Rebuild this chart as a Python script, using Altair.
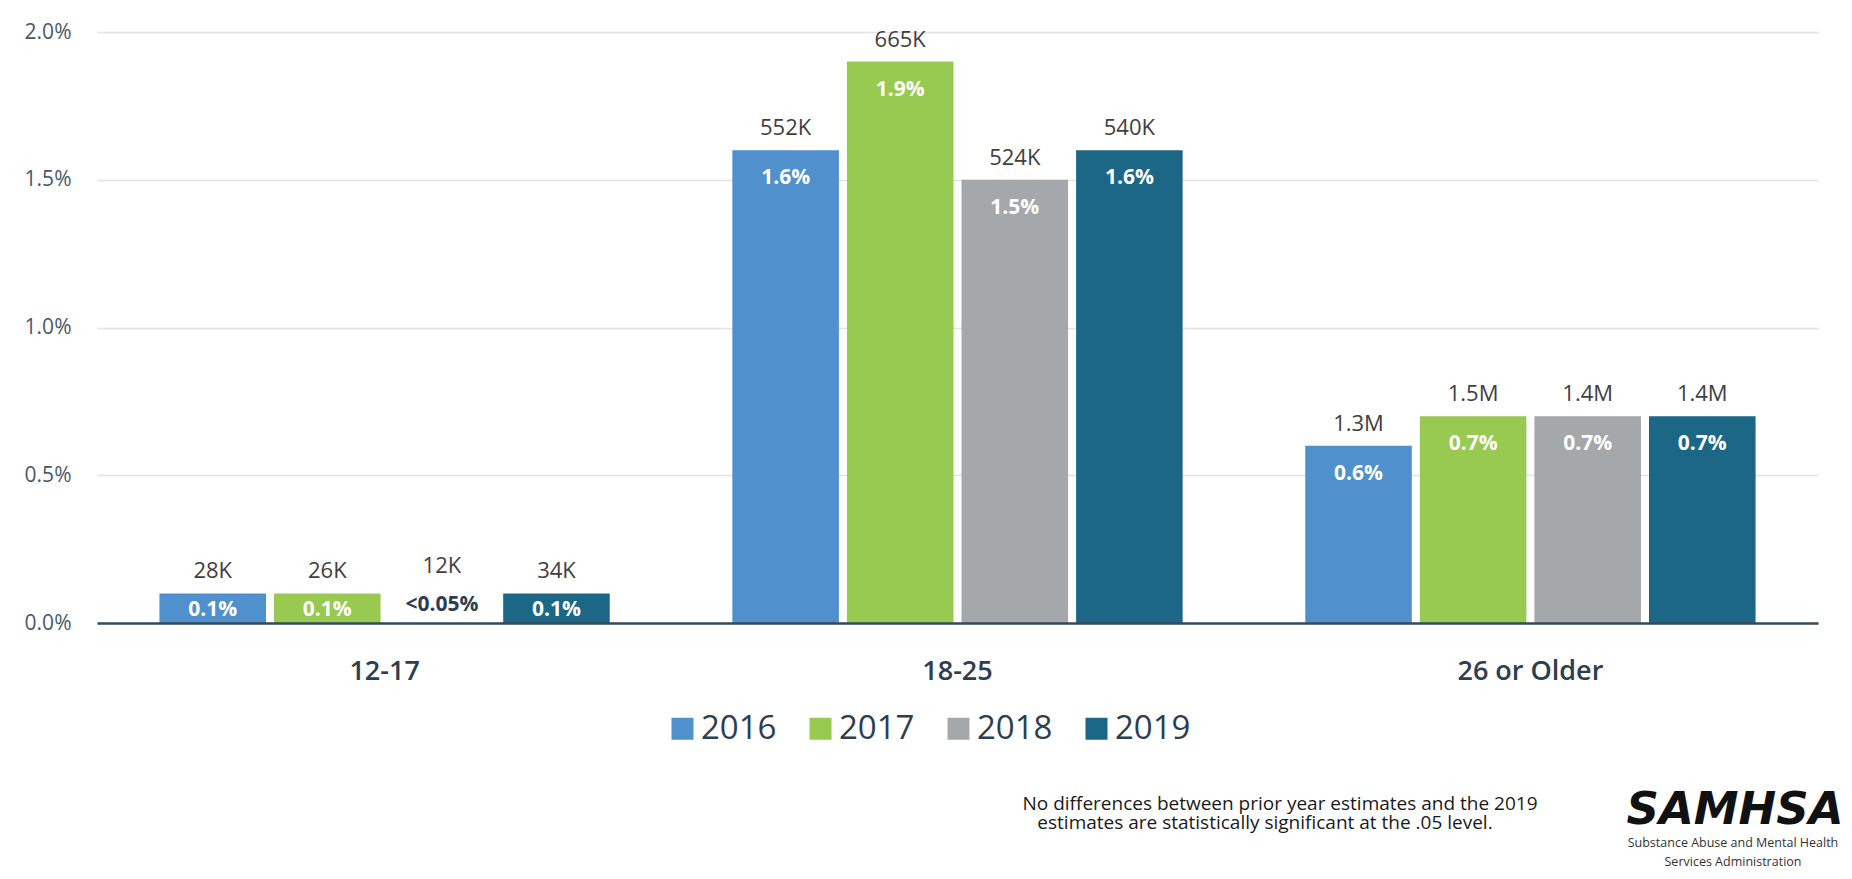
import altair as alt
import pandas as pd

age_groups = ["12-17", "18-25", "26 or Older"]
years = ["2016", "2017", "2018", "2019"]

pct_12_17 = [0.1, 0.1, 0.0, 0.1]
pct_18_25 = [1.6, 1.9, 1.5, 1.6]
pct_26_plus = [0.6, 0.7, 0.7, 0.7]

count_12_17 = ["28K", "26K", "12K", "34K"]
count_18_25 = ["552K", "665K", "524K", "540K"]
count_26_plus = ["1.3M", "1.5M", "1.4M", "1.4M"]

label_12_17 = ["0.1%", "0.1%", "<0.05%", "0.1%"]
label_18_25 = ["1.6%", "1.9%", "1.5%", "1.6%"]
label_26_plus = ["0.6%", "0.7%", "0.7%", "0.7%"]

colors = ["#4F90CD", "#98C950", "#A5A8AB", "#1B6785"]
y_ticks = [0, 0.5, 1.0, 1.5, 2.0]

note_line1 = "No differences between prior year estimates and the 2019"
note_line2 = "estimates are statistically significant at the .05 level."
logo_text = "SAMHSA"
logo_sub1 = "Substance Abuse and Mental Health"
logo_sub2 = "Services Administration"

rows = []
for g, pcts, cnts, labs in zip(
    age_groups,
    [pct_12_17, pct_18_25, pct_26_plus],
    [count_12_17, count_18_25, count_26_plus],
    [label_12_17, label_18_25, label_26_plus],
):
    for yr, p, c, l in zip(years, pcts, cnts, labs):
        rows.append(dict(group=g, year=yr, pct=p, count=c, label=l))
df = pd.DataFrame(rows)

FONT = "Open Sans"
DARK = "#2c3e50"

x_enc = alt.X(
    "group:N",
    sort=age_groups,
    scale=alt.Scale(paddingInner=0.214, paddingOuter=0.109),
    axis=alt.Axis(
        title=None,
        labelAngle=0,
        labelFont=FONT,
        labelFontSize=27,
        labelFontWeight=600,
        labelColor=DARK,
        labelBaseline="alphabetic",
        labelPadding=56,
        ticks=False,
        tickSize=0,
        domainColor="#34495e",
        domainWidth=2.6,
        grid=False,
        zindex=1,
    ),
)
xo_enc = alt.XOffset("year:N", sort=years, scale=alt.Scale(paddingInner=0.07))
y_enc = alt.Y(
    "pct:Q",
    scale=alt.Scale(domain=[0, 2], nice=False),
    axis=alt.Axis(
        title=None,
        values=y_ticks,
        labelExpr="format(datum.value, '.1f') + '%'",
        labelFont=FONT,
        labelFontSize=21,
        labelColor="#4a5866",
        labelPadding=26,
        domain=False,
        ticks=False,
        tickSize=0,
        gridColor="#e2e2e2",
        gridWidth=1.5,
        zindex=0,
    ),
)

base = alt.Chart(df).encode(x=x_enc, xOffset=xo_enc, y=y_enc)

bars = base.mark_bar().encode(
    color=alt.Color(
        "year:N",
        sort=years,
        scale=alt.Scale(domain=years, range=colors),
        legend=alt.Legend(
            title=None,
            orient="none",
            legendX=569,
            legendY=680,
            direction="horizontal",
            symbolType="square",
            symbolSize=484,
            symbolStrokeWidth=0,
            labelFont=FONT,
            labelFontSize=33,
            labelColor=DARK,
            labelOffset=2,
            columnPadding=27,
            padding=0,
        ),
    )
)

count_text = base.transform_filter("datum.pct > 0").mark_text(
    dy=-15, baseline="alphabetic", font=FONT, fontSize=22, color="#404040"
).encode(text="count:N")

inner_tall = base.transform_filter("datum.pct >= 0.3").mark_text(
    dy=34, baseline="alphabetic", font=FONT, fontSize=21, fontWeight="bold", color="white"
).encode(text="label:N")

inner_short = base.transform_filter("datum.pct > 0 && datum.pct < 0.3").mark_text(
    dy=23, baseline="alphabetic", font=FONT, fontSize=21, fontWeight="bold", color="white"
).encode(text="label:N")

zero_count = base.transform_filter("datum.pct == 0").mark_text(
    dy=-50, baseline="alphabetic", font=FONT, fontSize=22, color="#404040"
).encode(text="count:N")

zero_label = base.transform_filter("datum.pct == 0").mark_text(
    dy=-12, baseline="alphabetic", font=FONT, fontSize=21, fontWeight="bold", color=DARK
).encode(text="label:N")

note1 = alt.Chart(pd.DataFrame({"t": [note_line1]})).mark_text(
    font=FONT, fontSize=19, color="#1a1a1a", baseline="alphabetic", align="center"
).encode(x=alt.value(1183), y=alt.value(778), text="t:N")
note2 = alt.Chart(pd.DataFrame({"t": [note_line2]})).mark_text(
    font=FONT, fontSize=19, color="#1a1a1a", baseline="alphabetic", align="center"
).encode(x=alt.value(1168), y=alt.value(797), text="t:N")

logo = alt.Chart(pd.DataFrame({"t": [logo_text]})).mark_text(
    font="DejaVu Sans", fontSize=45, fontWeight="bold", fontStyle="italic",
    color="#111111", baseline="alphabetic", align="center"
).encode(x=alt.value(1638), y=alt.value(792), text="t:N")
logo_s1 = alt.Chart(pd.DataFrame({"t": [logo_sub1]})).mark_text(
    font=FONT, fontSize=12.5, color="#333333", baseline="alphabetic", align="center"
).encode(x=alt.value(1636), y=alt.value(815), text="t:N")
logo_s2 = alt.Chart(pd.DataFrame({"t": [logo_sub2]})).mark_text(
    font=FONT, fontSize=12.5, color="#333333", baseline="alphabetic", align="center"
).encode(x=alt.value(1636), y=alt.value(834), text="t:N")

chart = alt.layer(
    bars, count_text, inner_tall, inner_short, zero_count, zero_label,
    note1, note2, logo, logo_s1, logo_s2,
).properties(
    width=1721,
    height=591,
    padding={"left": 89, "top": 24, "right": 26, "bottom": 248},
    autosize=alt.AutoSizeParams(type="none"),
    background="white",
).configure_view(stroke=None)

chart.save("out.html", embed_options={"renderer": "svg", "actions": False})
